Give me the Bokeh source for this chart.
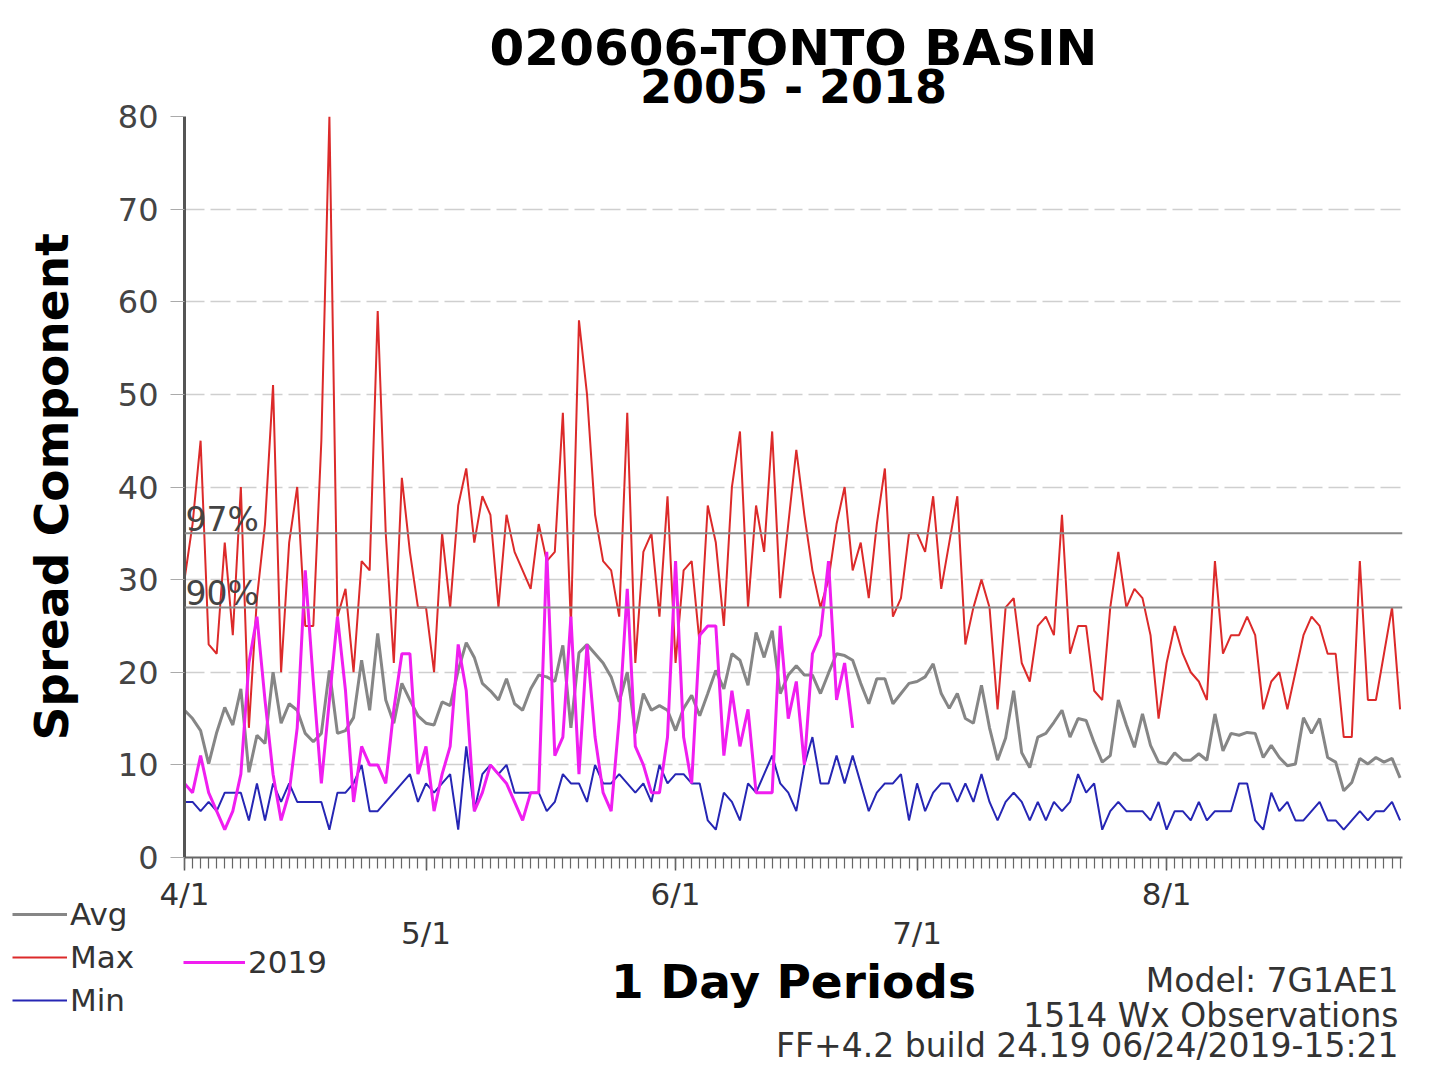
from bokeh.plotting import figure
from bokeh.layouts import column
from bokeh.models import (Range1d, FixedTicker, LinearAxis, Span, Label, Legend, LegendItem)
from bokeh.embed import file_html
from bokeh.resources import INLINE

# ---------------- data ----------------
days = list(range(152))                    # day 0 = 4/1 ... day 151 = 8/30
month_ticks = [0, 30, 61, 91, 122]
month_labels = ["4/1", "5/1", "6/1", "7/1", "8/1"]

max_vals = [30, 36, 45, 23, 22, 34, 24, 40, 14, 28,
            36, 51, 20, 34, 40, 25, 25, 45, 80, 26,
            29, 20, 32, 31, 59, 35, 21, 41, 33, 27,
            27, 20, 35, 27, 38, 42, 34, 39, 37, 27,
            37, 33, 31, 29, 36, 32, 33, 48, 25, 58,
            50, 37, 32, 31, 26, 48, 21, 33, 35, 26,
            39, 21, 31, 32, 23, 38, 34, 25, 40, 46,
            27, 38, 33, 46, 28, 36, 44, 37, 31, 27,
            30, 36, 40, 31, 34, 28, 36, 42, 26, 28,
            35, 35, 33, 39, 29, 34, 39, 23, 27, 30,
            27, 16, 27, 28, 21, 19, 25, 26, 24, 37,
            22, 25, 25, 18, 17, 27, 33, 27, 29, 28,
            24, 15, 21, 25, 22, 20, 19, 17, 32, 22,
            24, 24, 26, 24, 16, 19, 20, 16, 20, 24,
            26, 25, 22, 22, 13, 13, 32, 17, 17, 22,
            27, 16]

avg_vals = [15.9, 15.0, 13.7, 10.1, 13.5, 16.2, 14.3, 18.2, 9.2, 13.2,
            12.3, 20.0, 14.5, 16.6, 15.9, 13.4, 12.5, 13.4, 20.2, 13.4,
            13.7, 15.1, 21.3, 15.9, 24.2, 17.0, 14.5, 18.8, 17.0, 15.3,
            14.5, 14.3, 16.8, 16.4, 20.2, 23.2, 21.6, 18.8, 18.0, 17.0,
            19.3, 16.6, 15.9, 18.2, 19.7, 19.5, 19.0, 22.9, 14.0, 22.1,
            23.0, 22.0, 21.0, 19.5, 16.8, 20.0, 13.4, 17.7, 15.9, 16.4,
            15.9, 13.7, 16.1, 17.5, 15.3, 17.7, 20.2, 18.2, 22.0, 21.3,
            18.6, 24.3, 21.6, 24.5, 17.7, 19.7, 20.7, 19.7, 19.7, 17.7,
            19.9, 22.0, 21.8, 21.3, 18.8, 16.6, 19.3, 19.3, 16.6, 17.7,
            18.8, 19.0, 19.5, 20.9, 17.7, 16.1, 17.7, 15.0, 14.5, 18.6,
            14.0, 10.5, 12.9, 18.0, 11.3, 9.7, 13.0, 13.4, 14.6, 15.9,
            13.0, 15.0, 14.8, 12.4, 10.3, 11.0, 17.0, 14.3, 11.9, 15.5,
            12.1, 10.3, 10.1, 11.3, 10.5, 10.5, 11.2, 10.5, 15.5, 11.5,
            13.4, 13.2, 13.5, 13.4, 10.8, 12.1, 10.8, 9.9, 10.1, 15.1,
            13.4, 15.0, 10.8, 10.3, 7.2, 8.1, 10.7, 10.1, 10.8, 10.3,
            10.7, 8.6]

min_vals = [6, 6, 5, 6, 5, 7, 7, 7, 4, 8,
            4, 8, 6, 8, 6, 6, 6, 6, 3, 7,
            7, 8, 10, 5, 5, 6, 7, 8, 9, 6,
            8, 7, 8, 9, 3, 12, 5, 9, 10, 9,
            10, 7, 7, 7, 7, 5, 6, 9, 8, 8,
            6, 10, 8, 8, 9, 8, 7, 8, 6, 10,
            8, 9, 9, 8, 8, 4, 3, 7, 6, 4,
            8, 7, 9, 11, 8, 7, 5, 10, 13, 8,
            8, 11, 8, 11, 8, 5, 7, 8, 8, 9,
            4, 8, 5, 7, 8, 8, 6, 8, 6, 9,
            6, 4, 6, 7, 6, 4, 6, 4, 6, 5,
            6, 9, 7, 8, 3, 5, 6, 5, 5, 5,
            4, 6, 3, 5, 5, 4, 6, 4, 5, 5,
            5, 8, 8, 4, 3, 7, 5, 6, 4, 4,
            5, 6, 4, 4, 3, 4, 5, 4, 5, 5,
            6, 4]

days_2019 = list(range(84))
vals_2019 = [8, 7, 11, 7, 5, 3, 5, 9, 21, 26,
             17, 9, 4, 7, 14, 31, 19, 8, 17, 26,
             18, 6, 12, 10, 10, 8, 16, 22, 22, 9,
             12, 5, 9, 12, 23, 18, 5, 7, 10, 9,
             8, 6, 4, 7, 7, 33, 11, 13, 26, 9,
             23, 13, 7, 5, 15, 29, 12, 10, 7, 7,
             13, 32, 13, 8, 24, 25, 25, 11, 18, 12,
             16, 7, 7, 7, 25, 15, 19, 10, 22, 24,
             32, 17, 21, 14]

pct97 = 35
pct90 = 27
y_ticks = [0, 10, 20, 30, 40, 50, 60, 70, 80]

title_lines = ["020606-TONTO BASIN", "2005 - 2018"]
notes = ["Model: 7G1AE1", "1514 Wx Observations", "FF+4.2 build 24.19 06/24/2019-15:21"]

FONT = "DejaVu Sans"
W, H = 1420, 1064

C_MAX, C_AVG, C_MIN, C_2019 = "#dc2a2a", "#868686", "#2626b4", "#f01ef0"
LW_MAX, LW_AVG, LW_MIN, LW_2019 = 2, 3, 2, 3

# ---------------- main chart ----------------
x_lo, x_hi = 0, 151.3
p = figure(width=W, height=H, output_backend="svg", toolbar_location=None,
           x_range=Range1d(x_lo, x_hi), y_range=Range1d(0, 80),
           x_axis_location=None, y_axis_location=None,
           min_border_left=184, min_border_right=W - 1402,
           min_border_top=116, min_border_bottom=H - 857)
p.frame_align = False
p.outline_line_color = None
p.background_fill_color = "white"
p.border_fill_color = "white"
p.xgrid.visible = False
p.ygrid.ticker = FixedTicker(ticks=y_ticks[1:])
p.ygrid.grid_line_color = "#cfcfcf"
p.ygrid.grid_line_width = 1.5
p.ygrid.grid_line_dash = "20 6"

yaxis = LinearAxis(ticker=FixedTicker(ticks=y_ticks), axis_label="Spread Component")
yaxis.axis_line_color = "#555555"
yaxis.axis_line_width = 3
yaxis.major_tick_out = 14
yaxis.major_tick_in = 0
yaxis.major_tick_line_color = "#aaaaaa"
yaxis.minor_tick_line_color = None
yaxis.major_label_standoff = 12
yaxis.major_label_text_font = FONT
yaxis.major_label_text_font_size = "32px"
yaxis.major_label_text_color = "#444444"
yaxis.axis_label_text_font = FONT
yaxis.axis_label_text_font_size = "47px"
yaxis.axis_label_text_font_style = "bold"
yaxis.axis_label_text_color = "black"
yaxis.axis_label_standoff = 36
p.add_layout(yaxis, "left")

over1 = {t: (l if i % 2 == 0 else "") for i, (t, l) in enumerate(zip(month_ticks, month_labels))}
xaxis1 = LinearAxis(ticker=FixedTicker(ticks=month_ticks, minor_ticks=days),
                    major_label_overrides=over1)
xaxis1.axis_line_color = "#666666"
xaxis1.axis_line_width = 2
xaxis1.major_tick_out = 13
xaxis1.major_tick_in = 0
xaxis1.minor_tick_out = 11
xaxis1.minor_tick_in = 0
xaxis1.major_tick_line_color = "#555555"
xaxis1.minor_tick_line_color = "#666666"
xaxis1.major_tick_line_width = 1.5
xaxis1.minor_tick_line_width = 1.2
xaxis1.major_label_standoff = 5
xaxis1.major_label_text_font = FONT
xaxis1.major_label_text_font_size = "31px"
xaxis1.major_label_text_color = "#333333"
p.add_layout(xaxis1, "below")

over2 = {t: l for i, (t, l) in enumerate(zip(month_ticks, month_labels)) if i % 2 == 1}
xaxis2 = LinearAxis(ticker=FixedTicker(ticks=[t for i, t in enumerate(month_ticks) if i % 2 == 1]),
                    major_label_overrides=over2, axis_label="1 Day Periods")
xaxis2.axis_line_color = None
xaxis2.major_tick_line_color = None
xaxis2.minor_tick_line_color = None
xaxis2.major_tick_out = 0
xaxis2.major_tick_in = 0
xaxis2.major_label_standoff = 0
xaxis2.major_label_text_font = FONT
xaxis2.major_label_text_font_size = "31px"
xaxis2.major_label_text_color = "#333333"
xaxis2.axis_label_text_font = FONT
xaxis2.axis_label_text_font_size = "47px"
xaxis2.axis_label_text_font_style = "bold"
xaxis2.axis_label_text_color = "black"
xaxis2.axis_label_standoff = 0
p.add_layout(xaxis2, "below")

for val, lab in [(pct97, "97%"), (pct90, "90%")]:
    p.add_layout(Span(location=val, dimension="width", line_color="#8a8a8a", line_width=2))
    p.add_layout(Label(x=x_lo, y=val, text=lab, text_font=FONT, text_font_size="33px",
                       text_color="#444444", text_baseline="bottom", x_offset=1, y_offset=-6))

p.line(days, max_vals, line_color=C_MAX, line_width=LW_MAX)
p.line(days, avg_vals, line_color=C_AVG, line_width=LW_AVG)
p.line(days, min_vals, line_color=C_MIN, line_width=LW_MIN)
p.line(days_2019, vals_2019, line_color=C_2019, line_width=LW_2019)

# ---------------- overlay: titles, legend, notes (page-pixel coordinates) ----------------
q = figure(width=W, height=H, output_backend="svg", toolbar_location=None,
           x_range=Range1d(0, W), y_range=Range1d(H, 0),
           x_axis_location=None, y_axis_location=None, min_border=0)
q.frame_align = False
q.xgrid.visible = False
q.ygrid.visible = False
q.outline_line_color = None
q.background_fill_color = None
q.border_fill_color = None
q.styles = {"position": "absolute", "left": "0px", "top": "0px", "pointer-events": "none"}

for txt, yy, fs in [(title_lines[0], 47, "50px"), (title_lines[1], 86, "46px")]:
    q.add_layout(Label(x=793, y=yy, text=txt, text_font=FONT, text_font_size=fs,
                       text_font_style="bold", text_color="black",
                       text_align="center", text_baseline="middle"))

for txt, yy in zip(notes, [980, 1015, 1045]):
    q.add_layout(Label(x=1398, y=yy, text=txt, text_font=FONT, text_font_size="33px",
                       text_color="#333333", text_align="right", text_baseline="middle"))

# legend proxies (NaN lines carrying the series styles; nothing is drawn in the plot)
nan = float("nan")
l_avg = q.line(x=[nan, nan], y=[nan, nan], line_color=C_AVG, line_width=LW_AVG)
l_max = q.line(x=[nan, nan], y=[nan, nan], line_color=C_MAX, line_width=LW_MAX)
l_min = q.line(x=[nan, nan], y=[nan, nan], line_color=C_MIN, line_width=LW_MIN)
l_2019 = q.line(x=[nan, nan], y=[nan, nan], line_color=C_2019, line_width=LW_2019)

def style_legend(lg, gw):
    lg.label_text_font = FONT
    lg.label_text_font_size = "31px"
    lg.label_text_color = "#333333"
    lg.glyph_width = gw
    lg.glyph_height = 36
    lg.label_height = 36
    lg.label_standoff = 3
    lg.spacing = 7
    lg.padding = 0
    lg.margin = 0
    lg.border_line_color = None
    lg.background_fill_alpha = 0

leg1 = Legend(items=[LegendItem(label="Avg", renderers=[l_avg]),
                     LegendItem(label="Max", renderers=[l_max]),
                     LegendItem(label="Min", renderers=[l_min])],
              location=(12, H - 1018))
style_legend(leg1, 55)
q.add_layout(leg1)

leg2 = Legend(items=[LegendItem(label="2019", renderers=[l_2019])], location=(183, H - 980))
style_legend(leg2, 62)
q.add_layout(leg2)

root = column(p, q)
root.styles = {"position": "relative"}

open("out.html", "w").write(file_html(root, INLINE))
